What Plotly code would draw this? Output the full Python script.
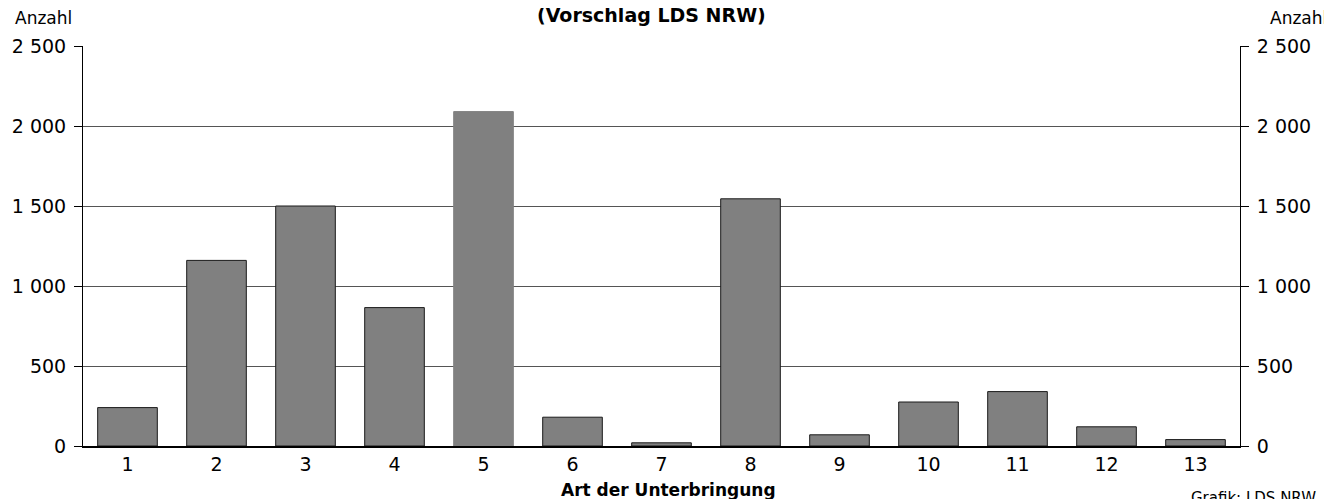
import plotly.graph_objects as go

categories = [str(i) for i in range(1, 14)]
values = [240, 1160, 1500, 865, 2090, 180, 20, 1545, 70, 275, 340, 120, 40]
outline = ["#1a1a1a"] * 13
outline[4] = "#808080"  # bar 5 drawn without dark border

fig = go.Figure()
fig.add_trace(
    go.Bar(
        x=categories,
        y=values,
        width=0.67,
        marker=dict(color="#808080", line=dict(color=outline, width=1)),
        showlegend=False,
    )
)
# invisible twin so the right-hand axis is drawn
fig.add_trace(
    go.Scatter(x=categories, y=values, yaxis="y2", mode="markers",
               marker=dict(opacity=0), showlegend=False, hoverinfo="skip")
)

font = "DejaVu Sans, sans-serif"
yax = dict(
    range=[0, 2500],
    dtick=500,
    tickformat=",d",
    showline=True,
    linecolor="black",
    linewidth=1,
    ticks="outside",
    ticklen=8,
    tickcolor="black",
    tickfont=dict(size=19, color="black"),
    ticklabelstandoff=4,
    zeroline=False,
    automargin=False,
)

# page body has an 8px margin, so the figure is shifted by 8px
fig.update_layout(
    width=1324,
    height=491,
    margin=dict(l=75, r=92, t=38, b=53),
    plot_bgcolor="white",
    paper_bgcolor="white",
    separators=", ",
    font=dict(family=font, color="black"),
    xaxis=dict(
        showline=True, linecolor="black", linewidth=1.5,
        ticks="", tickfont=dict(size=19, color="black"),
        range=[-0.5, 12.5], automargin=False,
    ),
    yaxis=dict(**yax, showgrid=True, gridcolor="#555555", gridwidth=1.2),
    yaxis2=dict(**yax, overlaying="y", side="right", showgrid=False),
    annotations=[
        dict(text="<b>(Vorschlag LDS NRW)</b>", x=0.5, y=1, xref="paper", yref="paper",
             yanchor="middle", xshift=-10, yshift=31, showarrow=False, font=dict(size=19)),
        dict(text="Anzahl", x=0, y=1, xref="paper", yref="paper", xanchor="left",
             yanchor="middle", xshift=-70, yshift=28, showarrow=False, font=dict(size=17)),
        dict(text="Anzahl", x=1, y=1, xref="paper", yref="paper", xanchor="right",
             yanchor="middle", xshift=89, yshift=28, showarrow=False, font=dict(size=17)),
        dict(text="<b>Art der Unterbringung</b>", x=0.5, y=0, xref="paper", yref="paper",
             yanchor="middle", xshift=7, yshift=-44, showarrow=False, font=dict(size=17)),
        dict(text="Grafik: LDS NRW", x=1, y=0, xref="paper", yref="paper", xanchor="left",
             yanchor="top", xshift=-51, yshift=-41, showarrow=False, font=dict(size=15)),
    ],
)

fig.write_html("out.html")
